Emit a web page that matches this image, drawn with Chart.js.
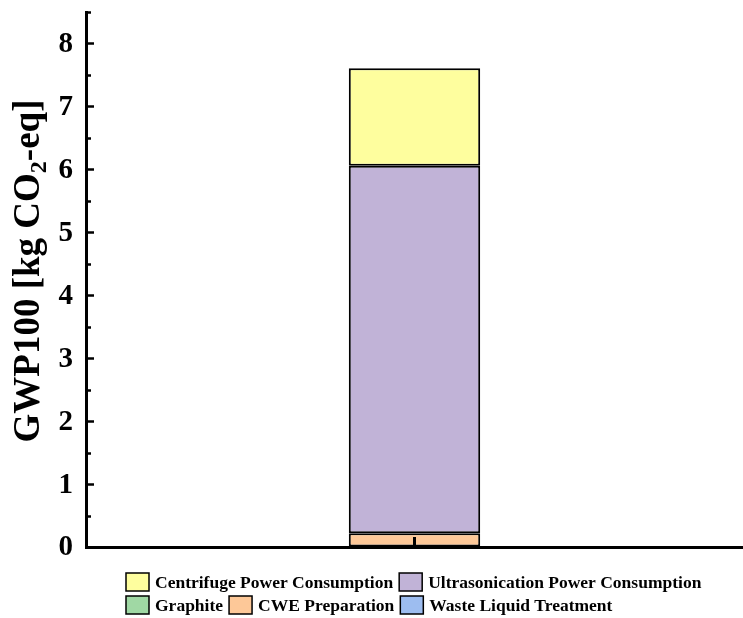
<!DOCTYPE html>
<html>
<head>
<meta charset="utf-8">
<script src="https://cdn.jsdelivr.net/npm/chart.js@4.4.1/dist/chart.umd.min.js"></script>
<style>
  html, body { margin: 0; padding: 0; background: #ffffff; }
  #wrap { width: 743px; height: 618px; position: relative; }
</style>
</head>
<body>
<div id="wrap"><canvas id="chart" width="743" height="618"></canvas></div>
<script>
// Global warming potential contributions, one stacked bar
const categories = ['Process'];
const seriesLabels = ['Waste Liquid Treatment', 'Graphite', 'CWE Preparation', 'Ultrasonication Power Consumption', 'Centrifuge Power Consumption'];
const wasteLiquid = [0.003];
const graphite = [0.005];
const cwePreparation = [0.21];
const ultrasonication = [5.84];
const centrifuge = [1.55];
const seriesColors = ['#9DBDF0', '#A0D8A4', '#FDC898', '#C1B3D7', '#FEFE9E'];
const yTickValues = [0, 1, 2, 3, 4, 5, 6, 7, 8];
const yTitleMain = 'GWP100 [kg CO';
const yTitleSub = '2';
const yTitleEnd = '-eq]';
// legend rows, by series label
const legendRows = [
  ['Centrifuge Power Consumption', 'Ultrasonication Power Consumption'],
  ['Graphite', 'CWE Preparation', 'Waste Liquid Treatment']
];

const seriesValues = [wasteLiquid, graphite, cwePreparation, ultrasonication, centrifuge];
const SERIF = '"Liberation Serif", "Times New Roman", serif';

const datasets = seriesLabels.map((label, i) => ({
  label: label,
  data: seriesValues[i],
  backgroundColor: seriesColors[i],
  borderColor: '#000000',
  borderWidth: 2,
  borderSkipped: false,
  barPercentage: 0.2,
  categoryPercentage: 1.0
}));

// Inward tick marks, tick labels, category tick, y title with subscript, two-row legend
const decorations = {
  id: 'decorations',
  afterDatasetsDraw(chart) {
    const ctx = chart.ctx;
    const area = chart.chartArea;
    const y = chart.scales.y;
    const x = chart.scales.x;
    ctx.save();
    ctx.strokeStyle = '#000000';
    ctx.lineWidth = 2.5;
    ctx.lineCap = 'butt';
    // y ticks: majors on integers, minors on halves, pointing into the plot
    y.ticks.forEach(t => {
      const py = Math.round(y.getPixelForValue(t.value)) + 0.5;
      const isMajor = yTickValues.includes(t.value);
      const len = isMajor ? 8 : 5;
      if (t.value !== 0) {
        ctx.beginPath();
        ctx.moveTo(area.left, py);
        ctx.lineTo(area.left + len, py);
        ctx.stroke();
      }
    });
    // y tick labels
    ctx.fillStyle = '#000000';
    ctx.font = 'bold 29px ' + SERIF;
    ctx.textAlign = 'right';
    ctx.textBaseline = 'middle';
    yTickValues.forEach(v => {
      ctx.fillText(String(v), area.left - 13, y.getPixelForValue(v) + 1);
    });
    // x tick at the category centre
    categories.forEach((c, i) => {
      const px = x.getPixelForValue(i);
      ctx.lineWidth = 3;
      ctx.beginPath();
      ctx.moveTo(px, area.bottom);
      ctx.lineTo(px, area.bottom - 10);
      ctx.stroke();
    });
    ctx.restore();
  },
  afterDraw(chart) {
    const ctx = chart.ctx;
    const area = chart.chartArea;
    ctx.save();
    // y axis title
    const mainFont = 'bold 37px ' + SERIF;
    const subFont = 'bold 24px ' + SERIF;
    ctx.font = mainFont;
    const w1 = ctx.measureText(yTitleMain).width;
    const w3 = ctx.measureText(yTitleEnd).width;
    ctx.font = subFont;
    const w2 = ctx.measureText(yTitleSub).width;
    const total = w1 + w2 + w3;
    const cy = 271;
    ctx.translate(39, cy);
    ctx.rotate(-Math.PI / 2);
    ctx.fillStyle = '#000000';
    ctx.textBaseline = 'alphabetic';
    ctx.textAlign = 'left';
    let sx = -total / 2;
    ctx.font = mainFont;
    ctx.fillText(yTitleMain, sx, 0);
    sx += w1;
    ctx.font = subFont;
    ctx.fillText(yTitleSub, sx, 7);
    sx += w2;
    ctx.font = mainFont;
    ctx.fillText(yTitleEnd, sx, 0);
    ctx.restore();

    // legend
    ctx.save();
    ctx.font = 'bold 17.5px ' + SERIF;
    ctx.textBaseline = 'middle';
    ctx.textAlign = 'left';
    const rowY = [582, 605];
    const boxW = 23, boxH = 18;
    legendRows.forEach((row, r) => {
      let lx = 126;
      row.forEach(label => {
        const idx = seriesLabels.indexOf(label);
        ctx.fillStyle = seriesColors[idx];
        ctx.fillRect(lx, rowY[r] - boxH / 2, boxW, boxH);
        ctx.strokeStyle = '#000000';
        ctx.lineWidth = 1.5;
        ctx.strokeRect(lx, rowY[r] - boxH / 2, boxW, boxH);
        ctx.fillStyle = '#000000';
        ctx.fillText(label, lx + boxW + 6, rowY[r] + 1);
        lx += boxW + 6 + ctx.measureText(label).width + 6;
      });
    });
    ctx.restore();
  }
};

new Chart(document.getElementById('chart'), {
  type: 'bar',
  data: { labels: categories, datasets: datasets },
  plugins: [decorations],
  options: {
    responsive: false,
    animation: false,
    layout: { padding: { top: 12, right: 0, left: 0, bottom: 0 } },
    plugins: { legend: { display: false }, tooltip: { enabled: false }, title: { display: false } },
    scales: {
      x: {
        stacked: true,
        ticks: { display: false },
        grid: { display: true, drawOnChartArea: false, drawTicks: false },
        border: { display: true, color: '#000000', width: 3 },
        afterFit(scale) { scale.height = 618 - 547; }
      },
      y: {
        stacked: true,
        min: 0,
        max: 8.5,
        ticks: { stepSize: 0.5, autoSkip: false, display: false },
        grid: { display: true, drawOnChartArea: false, drawTicks: false },
        border: { display: true, color: '#000000', width: 3 },
        afterFit(scale) { scale.width = 86; }
      }
    }
  }
});
</script>
</body>
</html>
